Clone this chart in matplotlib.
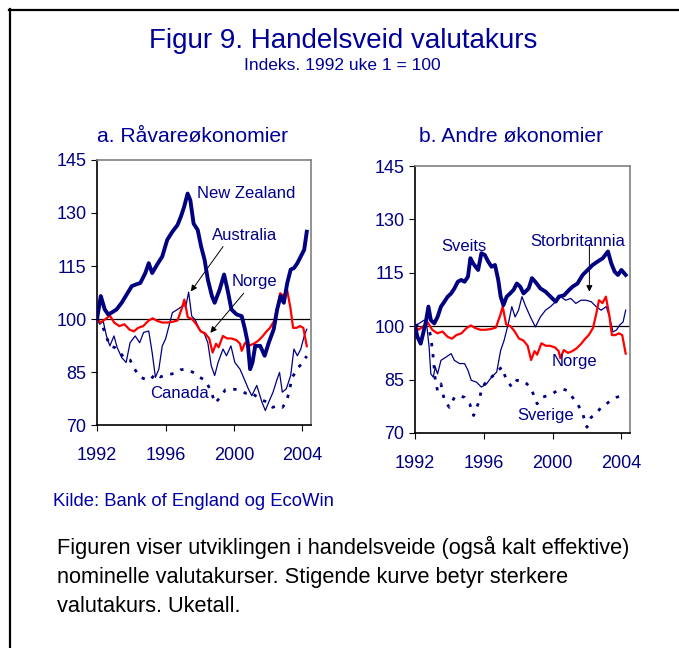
import matplotlib
matplotlib.use("Agg")
import matplotlib.pyplot as plt
from matplotlib.lines import Line2D

plt.rcParams["font.family"] = ["Liberation Sans", "DejaVu Sans"]

NAVY = "#000080"
RED = "#ff0000"
TXT = "#00008b"

# --- data (index, 1992 week 1 = 100) ---
nz_years = [1992.0, 1992.22, 1992.45, 1992.65, 1992.85, 1993.14, 1993.44, 1993.74, 1994.03, 1994.23,
            1994.53, 1994.82, 1995.02, 1995.22, 1995.51, 1995.81, 1996.1, 1996.4, 1996.7, 1996.9,
            1997.09, 1997.29, 1997.45, 1997.64, 1997.88, 1998.08, 1998.28, 1998.47, 1998.71, 1998.87,
            1999.16, 1999.42, 1999.62, 1999.85, 2000.15, 2000.45, 2000.64, 2000.8, 2000.94, 2001.08,
            2001.24, 2001.53, 2001.79, 2002.03, 2002.32, 2002.52, 2002.72, 2002.91, 2003.11, 2003.31,
            2003.5, 2003.7, 2003.9, 2004.1, 2004.25]
nz_vals = [100, 106.5, 102.7, 101.3, 101.8, 102.7, 104.6, 107, 109.3, 109.7,
           110.2, 113, 115.8, 113, 115.4, 117.7, 122.4, 124.7, 126.6, 129,
           131.8, 135.5, 133.6, 127, 125.2, 120.5, 116.8, 111.2, 106.5, 104.6,
           108.3, 112.6, 108.3, 102.7, 101.3, 100.8, 97.1, 93.3, 85.8, 87.7,
           92.4, 92.4, 89.6, 93.3, 97.1, 102.7, 106.5, 104.6, 110.2, 114,
           114.4, 115.8, 117.7, 119.6, 124.7]

au_years = [1992.0, 1992.16, 1992.36, 1992.55, 1992.75, 1992.99, 1993.18, 1993.44, 1993.7, 1993.93,
            1994.23, 1994.49, 1994.72, 1995.02, 1995.22, 1995.41, 1995.61, 1995.81, 1996.0, 1996.2,
            1996.4, 1996.7, 1996.99, 1997.19, 1997.35, 1997.53, 1997.72, 1997.98, 1998.28, 1998.47,
            1998.67, 1998.87, 1999.07, 1999.36, 1999.56, 1999.82, 2000.05, 2000.35, 2000.6, 2000.84,
            2001.04, 2001.33, 2001.63, 2001.83, 2002.03, 2002.28, 2002.52, 2002.66, 2002.82, 2003.05,
            2003.31, 2003.5, 2003.7, 2003.9, 2004.1, 2004.25]
au_vals = [100, 98.5, 99.4, 95.2, 92.4, 95.2, 91.9, 89.1, 87.7, 93.3,
           95.2, 93.3, 96.2, 96.6, 90.5, 83.5, 85.8, 92.4, 94.3, 98,
           101.8, 102.7, 103.7, 103.7, 107.6, 100.8, 99.9, 97.1, 95.7, 93.3,
           86.8, 84, 87.7, 91.5, 89.6, 92.4, 87.7, 85.8, 83, 80.2,
           78.3, 81.2, 76.5, 74.1, 76.5, 79.3, 83, 84.9, 79.3, 80.2,
           84, 91.5, 89.6, 91.5, 95.2, 97.1]

ca_years = [1992.0, 1992.26, 1992.45, 1992.75, 1993.05, 1993.34, 1993.64, 1993.93, 1994.2, 1994.5,
            1994.8, 1995.1, 1995.4, 1995.7, 1996.0, 1996.3, 1996.6, 1996.86, 1997.1, 1997.4,
            1997.7, 1998.0, 1998.3, 1998.6, 1998.9, 1999.2, 1999.5, 1999.8, 2000.26, 2000.67,
            2000.95, 2001.25, 2001.66, 2001.95, 2002.25, 2002.55, 2002.83, 2003.05, 2003.2, 2003.4,
            2003.6, 2003.77, 2004.0, 2004.1, 2004.25]
ca_vals = [100, 99, 96.2, 92.4, 91.9, 90.5, 88.7, 88.4, 85.8, 83.6,
           83, 82.7, 84.5, 83.6, 84.2, 84.4, 84.7, 85.6, 85.8, 85.4,
           84.7, 83.5, 82.7, 80.2, 76.2, 77.9, 80, 80.2, 80, 79,
           79.3, 78.3, 77, 76.5, 75, 75.5, 75, 76.5, 79, 83.6,
           84.9, 86.4, 87.5, 88.5, 89.5]

no_years = [1992.0, 1992.2, 1992.5, 1992.75, 1993.0, 1993.3, 1993.6, 1993.9, 1994.15, 1994.4,
            1994.7, 1995.0, 1995.25, 1995.5, 1995.8, 1996.1, 1996.4, 1996.7, 1996.95, 1997.1,
            1997.3, 1997.55, 1997.8, 1998.05, 1998.3, 1998.55, 1998.75, 1998.95, 1999.1, 1999.35,
            1999.6, 1999.85, 2000.15, 2000.35, 2000.45, 2000.65, 2000.9, 2001.15, 2001.4, 2001.65,
            2001.9, 2002.1, 2002.35, 2002.55, 2002.7, 2002.9, 2003.1, 2003.3, 2003.45, 2003.65,
            2003.85, 2004.05, 2004.25]
no_vals = [100, 99, 100, 101, 99, 98, 98.5, 97, 96.5, 97.5,
           98, 99.5, 100.2, 99.5, 99, 99, 99.2, 99.6, 103, 105.5,
           100.5, 100, 98.5, 96.5, 96, 94.5, 90.5, 93, 92, 95.2,
           94.5, 94.5, 94, 93, 91, 93.3, 92.5, 93, 93.8, 95,
           96.5, 97.5, 99.5, 103.7, 107.3, 106.5, 108.3, 103, 97.5, 97.5,
           98, 97.5, 92.3]

ch_years = [1992.0, 1992.14, 1992.33, 1992.47, 1992.63, 1992.78, 1992.92, 1993.12, 1993.31, 1993.51,
            1993.71, 1993.9, 1994.1, 1994.29, 1994.49, 1994.69, 1994.88, 1995.08, 1995.22, 1995.37,
            1995.67, 1995.86, 1996.06, 1996.25, 1996.45, 1996.65, 1996.84, 1996.98, 1997.14, 1997.33,
            1997.53, 1997.73, 1997.92, 1998.12, 1998.31, 1998.61, 1998.8, 1998.99, 1999.29, 1999.59,
            1999.88, 2000.18, 2000.37, 2000.67, 2000.96, 2001.16, 2001.45, 2001.75, 2002.04, 2002.33,
            2002.63, 2002.92, 2003.22, 2003.41, 2003.61, 2003.8, 2004.0, 2004.25]
ch_vals = [100, 97, 95.1, 97.9, 101.2, 105.5, 101.7, 100.8, 102.6, 105.5,
           106.9, 108.3, 109.2, 110.6, 112.5, 113, 112.5, 113.9, 119.1, 117.7,
           115.8, 120.5, 120, 118.2, 116.7, 117.2, 113, 108.3, 105.9, 108.3,
           109.2, 110.2, 112, 111.1, 109.2, 110.6, 113.5, 112.5, 110.6, 109.7,
           108.3, 106.9, 108.3, 108.7, 110.2, 111.1, 112, 114.4, 115.8, 117.2,
           118.2, 119.1, 121, 117.7, 115.3, 114.4, 115.8, 114.4]

uk_years = [1992.0, 1992.24, 1992.53, 1992.67, 1992.82, 1992.92, 1993.06, 1993.18, 1993.31, 1993.51,
            1993.8, 1994.1, 1994.29, 1994.59, 1994.88, 1995.08, 1995.27, 1995.57, 1995.86, 1996.16,
            1996.45, 1996.75, 1996.98, 1997.18, 1997.43, 1997.63, 1997.82, 1998.02, 1998.22, 1998.41,
            1998.71, 1999.0, 1999.29, 1999.59, 1999.88, 2000.18, 2000.47, 2000.76, 2001.06, 2001.35,
            2001.65, 2001.94, 2002.24, 2002.53, 2002.82, 2003.12, 2003.31, 2003.51, 2003.71, 2003.9,
            2004.1, 2004.25]
uk_vals = [100, 100.8, 101.7, 100.8, 94.2, 86.6, 85.7, 88.5, 86.6, 90.4,
           91.3, 92.3, 90.4, 89.5, 89.5, 87.6, 84.8, 84.3, 82.9, 83.8,
           85.7, 87.1, 93.2, 96, 100.8, 105.5, 102.6, 104.5, 108.3, 105.9,
           102.6, 99.8, 102.6, 104.5, 105.5, 106.9, 108.3, 107.3, 107.8, 106.4,
           107.3, 107.3, 106.9, 105.5, 104.5, 105.5, 102.6, 98.4, 98.9, 100.3,
           101.2, 104.5]

se_years = [1992.0, 1992.33, 1992.73, 1992.92, 1993.06, 1993.18, 1993.31, 1993.51, 1993.71, 1994.0,
            1994.29, 1994.59, 1994.88, 1995.18, 1995.41, 1995.67, 1995.86, 1996.16, 1996.45, 1996.75,
            1997.04, 1997.33, 1997.63, 1997.92, 1998.22, 1998.51, 1998.8, 1999.1, 1999.39, 1999.69,
            1999.98, 2000.27, 2000.57, 2000.86, 2001.16, 2001.45, 2001.75, 2002.0, 2002.24, 2002.53,
            2002.82, 2003.12, 2003.41, 2003.71, 2004.0, 2004.25]
se_vals = [100, 100.8, 100.8, 97, 91.3, 84.8, 81.9, 83.8, 79.1, 77.2,
           80, 80.5, 80, 78.2, 74.9, 78.2, 81.9, 84.8, 85.7, 87.1,
           88.5, 84.8, 82.9, 84.8, 84.8, 83.8, 81.9, 78.2, 80, 80.5,
           81, 81.9, 82.4, 81.9, 80, 78.2, 75.4, 71.6, 74.4, 75.4,
           77.2, 78.2, 79.1, 80, 80.5, 79.6]

y_ticks = [70, 85, 100, 115, 130, 145]
x_ticks = [1992, 1996, 2000, 2004]
DOTTED = (0, (1.2, 2.8))


def style_axes(ax):
    ax.set_xlim(1992, 2004.5)
    ax.set_ylim(70, 145)
    ax.set_xticks(x_ticks)
    ax.set_yticks(y_ticks)
    ax.tick_params(direction="out", length=4, width=0.8, colors="black",
                   labelcolor=NAVY, labelsize=13, top=False, right=False)
    ax.tick_params(axis="x", pad=12)
    for side in ("top", "right"):
        ax.spines[side].set_color("#808080")
        ax.spines[side].set_linewidth(1.2)
    for side in ("left", "bottom"):
        ax.spines[side].set_color("black")
        ax.spines[side].set_linewidth(1.2)
    ax.axhline(100, color="black", linewidth=0.9, zorder=1)


def arrow(ax, xy, xytext):
    ax.annotate("", xy=xy, xytext=xytext,
                arrowprops=dict(arrowstyle="-|>", color="black", lw=0.7,
                                mutation_scale=9, shrinkA=0, shrinkB=0))


fig = plt.figure(figsize=(6.79, 6.48), dpi=100)

ax1 = fig.add_axes([0.1429, 0.3441, 0.3152, 0.4090])
ax1.plot(ca_years, ca_vals, color=NAVY, linewidth=2.0, linestyle=DOTTED, zorder=2)
ax1.plot(au_years, au_vals, color=NAVY, linewidth=0.9, zorder=3)
ax1.plot(no_years, no_vals, color=RED, linewidth=1.6, zorder=3)
ax1.plot(nz_years, nz_vals, color=NAVY, linewidth=2.8, zorder=4)
style_axes(ax1)
ax1.text(2000.72, 135.4, "New Zealand", color=TXT, fontsize=12, ha="center", va="center")
ax1.text(2000.6, 123.6, "Australia", color=TXT, fontsize=12, ha="center", va="center")
ax1.text(2001.2, 110.6, "Norge", color=TXT, fontsize=12, ha="center", va="center")
ax1.text(1996.8, 78.9, "Canada", color=TXT, fontsize=12, ha="center", va="center", zorder=5)
arrow(ax1, (1997.48, 107.8), (1999.36, 120.5))
arrow(ax1, (1998.62, 96.1), (2000.57, 107.3))

ax2 = fig.add_axes([0.6112, 0.3318, 0.3166, 0.4120])
ax2.plot(se_years, se_vals, color=NAVY, linewidth=2.0, linestyle=DOTTED, zorder=2)
ax2.plot(uk_years, uk_vals, color=NAVY, linewidth=0.9, zorder=3)
ax2.plot(no_years, no_vals, color=RED, linewidth=1.6, zorder=3)
ax2.plot(ch_years, ch_vals, color=NAVY, linewidth=2.8, zorder=4)
style_axes(ax2)
ax2.text(1994.86, 122.4, "Sveits", color=TXT, fontsize=12, ha="center", va="center")
ax2.text(2001.47, 123.7, "Storbritannia", color=TXT, fontsize=12, ha="center", va="center")
ax2.text(2001.25, 90.2, "Norge", color=TXT, fontsize=12, ha="center", va="center")
ax2.text(1999.6, 74.9, "Sverige", color=TXT, fontsize=12, ha="center", va="center")
arrow(ax2, (2002.14, 109.7), (2002.14, 122.9))

W, H = 679, 648


def fx(px):
    return px / W


def fy(py):
    return 1 - py / H


fig.text(fx(343), fy(41), "Figur 9. Handelsveid valutakurs", color="#000099",
         fontsize=20, ha="center", va="center")
fig.text(fx(342), fy(66), "Indeks. 1992 uke 1 = 100", color="#000099",
         fontsize=12.5, ha="center", va="center")
fig.text(fx(193), fy(137), "a. Råvareøkonomier", color="#000099",
         fontsize=15.2, ha="center", va="center")
fig.text(fx(511), fy(137), "b. Andre økonomier", color="#000099",
         fontsize=15.2, ha="center", va="center")
fig.text(fx(53), fy(502), "Kilde: Bank of England og EcoWin", color="#0000aa",
         fontsize=13.3, ha="left", va="center")
body = ("Figuren viser utviklingen i handelsveide (også kalt effektive)\n"
        "nominelle valutakurser. Stigende kurve betyr sterkere\n"
        "valutakurs. Uketall.")
fig.text(fx(57), fy(536), body, color="black", fontsize=15.7, ha="left", va="top",
         linespacing=1.5)

# frame lines on the top and left edges
fig.add_artist(Line2D([fx(9), 1.0], [fy(10), fy(10)], color="black", linewidth=1.6))
fig.add_artist(Line2D([fx(10), fx(10)], [fy(9), 0.0], color="black", linewidth=1.6))

fig.savefig("out.png", dpi=100)
